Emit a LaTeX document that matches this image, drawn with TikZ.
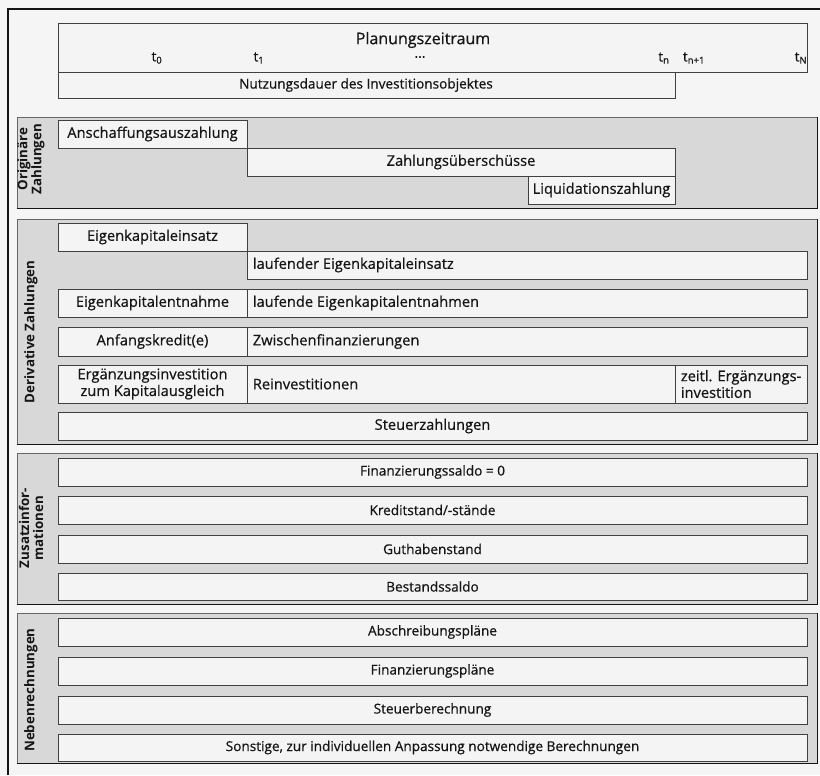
\documentclass[tikz,border=0pt]{standalone}
\usepackage{fontspec}
\setmainfont{Open Sans}
\newfontfamily\boxfont{Open Sans}[FakeBold=0.6]
\usetikzlibrary{fit}
\definecolor{paper}{HTML}{F5F5F5}
\definecolor{secgray}{HTML}{D8D8D8}
\definecolor{cellfill}{HTML}{F4F4F4}
\definecolor{ink}{HTML}{151515}

% rectangular node spanning two corner points: style, name, x1, y1, x2, y2
\newcommand\rectnode[6]{%
  \coordinate (#2-a) at (#3,#4);
  \coordinate (#2-b) at (#5,#6);
  \node[#1, fit=(#2-a)(#2-b)] (#2) {};}

% grey band with darker bottom and right edge
\newcommand\band[5]{%
  \rectnode{section}{#1}{#2}{#3}{#4}{#5}
  \draw[edge] (#1.south west) -- (#1.south east) -- (#1.north east);}

\tikzset{
  frame/.style={draw=ink, line width=1.1pt},
  section/.style={draw=black!60, fill=secgray, line width=0.5pt, inner sep=0pt},
  edge/.style={draw=ink, line width=1.2pt},
  cell/.style={draw=black!75, fill=cellfill, line width=0.65pt, inner sep=0pt},
  txt/.style={text=ink, font=\boxfont\fontsize{11}{12.5}\selectfont, inner sep=0pt},
  slim/.style={text=ink, font=\boxfont\fontsize{10.2}{11.5}\selectfont, inner sep=0pt},
  big/.style={text=ink, font=\boxfont\fontsize{12}{14}\selectfont, inner sep=0pt},
  sidelabel/.style={text=ink, font=\bfseries\fontsize{10}{10.5}\selectfont,
                    rotate=90, align=center, inner sep=0pt},
}

\begin{document}
\begin{tikzpicture}[x=0.75pt, y=-0.75pt]
\fill[paper] (0,0) rectangle (820,775);
\useasboundingbox (0,0) rectangle (820,775);

% page frame
\coordinate (fbl) at (8,775);
\coordinate (ftl) at (8,9);
\coordinate (ftr) at (820,9);
\draw[frame] (fbl) -- (ftl) -- (ftr);

% time axis
\rectnode{cell}{plan}{58}{23}{807}{72}
\rectnode{cell}{nutz}{58}{72}{675}{98}
\node[big] (plantxt) at (423,40) {Planungszeitraum};
\node[slim] (t0) at (157,58) {t\textsubscript{0}};
\node[slim] (t1) at (259,58) {t\textsubscript{1}};
\node[slim] (tdots) at (420,57) {...};
\node[slim] (tn) at (664,58) {t\textsubscript{n}};
\node[slim] (tn1) at (694,58) {t\textsubscript{n+1}};
\node[slim] (tN) at (801,58) {t\textsubscript{N}};
\node[slim] (nutztxt) at (366,85) {Nutzungsdauer des Investitionsobjektes};

% original payments
\band{orig}{17}{117}{817}{208}
\node[sidelabel] (origlbl) at (31,159) {Originäre\\Zahlungen};
\rectnode{cell}{ansch}{58}{120}{247}{148}
\node[txt] at (ansch) {Anschaffungsauszahlung};
\rectnode{cell}{ueber}{247}{148}{675}{176}
\node[txt] at (ueber) {Zahlungsüberschüsse};
\rectnode{cell}{liqu}{528}{176}{675}{204}
\node[txt] at (liqu) {Liquidationszahlung};

% derivative payments
\band{deriv}{17}{219}{817}{444}
\node[sidelabel] (derivlbl) at (31,332) {Derivative Zahlungen};
\rectnode{cell}{ek}{58}{223}{247}{251}
\node[txt] at (ek) {Eigenkapitaleinsatz};
\rectnode{cell}{lek}{247}{251}{807}{279}
\node[txt, anchor=west] at ([xshift=4.5pt]lek.west) {laufender Eigenkapitaleinsatz};
\rectnode{cell}{ekn}{58}{289}{247}{317}
\node[txt] at (ekn) {Eigenkapitalentnahme};
\rectnode{cell}{lekn}{247}{289}{807}{317}
\node[txt, anchor=west] at ([xshift=4.5pt]lekn.west) {laufende Eigenkapitalentnahmen};
\rectnode{cell}{ak}{58}{327}{247}{356}
\node[txt] at (ak) {Anfangskredit(e)};
\rectnode{cell}{zf}{247}{327}{807}{356}
\node[txt, anchor=west] at ([xshift=4.5pt]zf.west) {Zwischenfinanzierungen};
\rectnode{cell}{ergi}{58}{365}{247}{403}
\node[txt, align=center] at (ergi) {Ergänzungsinvestition\\zum Kapitalausgleich};
\rectnode{cell}{rein}{247}{365}{675}{403}
\node[txt, anchor=west] at ([xshift=4.5pt]rein.west) {Reinvestitionen};
\rectnode{cell}{zeit}{675}{365}{807}{403}
\node[txt, anchor=west, align=left] at ([xshift=4.5pt]zeit.west) {zeitl. Ergänzungs-\\investition};
\rectnode{cell}{steu}{58}{412}{807}{440}
\node[txt] at (steu) {Steuerzahlungen};

% additional information
\band{zus}{17}{453}{817}{604}
\node[sidelabel] (zuslbl) at (31,528) {Zusatzinfor-\\mationen};
\rectnode{cell}{fs}{58}{458}{807}{486}
\node[slim] at (fs) {Finanzierungssaldo = 0};
\rectnode{cell}{ks}{58}{496}{807}{524}
\node[slim] at (ks) {Kreditstand/-stände};
\rectnode{cell}{gh}{58}{535}{807}{563}
\node[slim] at (gh) {Guthabenstand};
\rectnode{cell}{bs}{58}{573}{807}{600}
\node[slim] at (bs) {Bestandssaldo};

% side calculations
\band{neben}{17}{613}{817}{763}
\node[sidelabel] (nebenlbl) at (31,690) {Nebenrechnungen};
\rectnode{cell}{ab}{58}{618}{807}{646}
\node[slim] at (ab) {Abschreibungspläne};
\rectnode{cell}{fp}{58}{657}{807}{685}
\node[slim] at (fp) {Finanzierungspläne};
\rectnode{cell}{sb}{58}{696}{807}{724}
\node[slim] at (sb) {Steuerberechnung};
\rectnode{cell}{so}{58}{734}{807}{761}
\node[slim] at (so) {Sonstige, zur individuellen Anpassung notwendige Berechnungen};
\end{tikzpicture}
\end{document}
